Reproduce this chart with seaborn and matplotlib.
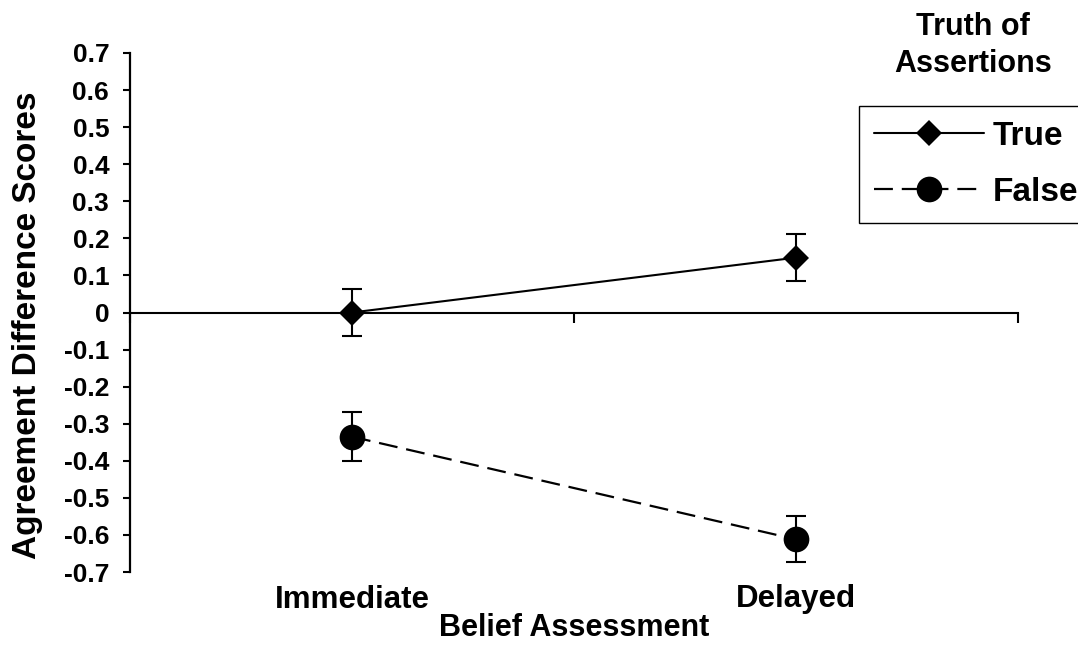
import pandas as pd
import seaborn as sns
import matplotlib.pyplot as plt

# Datos
assessment = ['Immediate', 'Delayed']
true_scores = [0.00, 0.148]
true_err = [0.064, 0.064]
false_scores = [-0.335, -0.612]
false_err = [0.066, 0.062]
y_ticks = [0.7, 0.6, 0.5, 0.4, 0.3, 0.2, 0.1, 0.0, -0.1, -0.2, -0.3, -0.4, -0.5, -0.6, -0.7]
y_tick_labels = ['0.7', '0.6', '0.5', '0.4', '0.3', '0.2', '0.1', '0',
                 '-0.1', '-0.2', '-0.3', '-0.4', '-0.5', '-0.6', '-0.7']

sns.set_style('white')
plt.rcParams['font.family'] = ['Liberation Sans', 'DejaVu Sans']
plt.rcParams['font.weight'] = 'bold'
for k in ['text.color', 'axes.labelcolor', 'xtick.color', 'ytick.color']:
    plt.rcParams[k] = 'black'

df_true = pd.DataFrame({'Assessment': assessment, 'Score': true_scores})
df_false = pd.DataFrame({'Assessment': assessment, 'Score': false_scores})

fig = plt.figure(figsize=(10.78, 6.45), dpi=100)
ax = fig.add_axes([130 / 1078, 1 - 572 / 645, 888 / 1078, 519 / 645])

sns.pointplot(data=df_true, x='Assessment', y='Score', order=assessment, color='black',
              marker='D', linestyle='-', linewidth=1.5, markersize=13.5,
              markeredgewidth=0, errorbar=None, ax=ax)
sns.pointplot(data=df_false, x='Assessment', y='Score', order=assessment, color='black',
              marker='o', linestyle=(0, (8.5, 4)), linewidth=1.6, markersize=18.5,
              markeredgewidth=0, errorbar=None, ax=ax)
line_true, line_false = ax.lines[0], ax.lines[1]

# barras de error
xpos = list(range(len(assessment)))
ax.errorbar(xpos, true_scores, yerr=true_err, fmt='none', ecolor='black',
            elinewidth=1.5, capsize=7.5, capthick=1.5, zorder=1)
ax.errorbar(xpos, false_scores, yerr=false_err, fmt='none', ecolor='black',
            elinewidth=1.5, capsize=7.5, capthick=1.5, zorder=1)

ax.set_xlim(-0.5, len(assessment) - 0.5)
ax.set_ylim(-0.7, 0.7)

# ejes
ax.spines[['top', 'right']].set_visible(False)
ax.spines['bottom'].set_position(('data', 0))
ax.spines['bottom'].set_linewidth(1.5)
ax.spines['left'].set_linewidth(1.6)
for s in ['bottom', 'left']:
    ax.spines[s].set_color('black')
ax.set_xticks([-0.5, 0.5, 1.5], labels=['', '', ''])
ax.tick_params(axis='x', direction='out', length=7.5, width=1.5, color='black', bottom=True)
ax.set_yticks(y_ticks, labels=y_tick_labels)
ax.tick_params(axis='y', direction='out', length=5, width=1.5, color='black',
               pad=10, labelsize=19, left=True)
ax.set_xlabel('')
ax.set_ylabel('Agreement Difference Scores', fontsize=24, fontweight='bold')
ax.yaxis.set_label_coords(-0.098, 0.476)

# etiquetas de categoria abajo
secax = ax.secondary_xaxis(0.0)
secax.set_xticks(xpos, labels=assessment)
secax.tick_params(length=0, pad=9, labelsize=22.5)
secax.spines['bottom'].set_visible(False)
secax.set_xlabel('Belief Assessment', fontsize=22, fontweight='bold', labelpad=-1)

# leyenda
fig.text(973 / 1078, 1 - 35 / 645, 'Truth of', ha='center', va='baseline', fontsize=22)
fig.text(973 / 1078, 1 - 72 / 645, 'Assertions', ha='center', va='baseline', fontsize=22)
leg = fig.legend([line_true, line_false], ['True', 'False'], loc='upper left',
                 bbox_to_anchor=(859 / 1078, 1 - 106 / 645), borderaxespad=0,
                 prop={'size': 24, 'weight': 'bold'}, handlelength=3.3,
                 handletextpad=0.25, borderpad=0.45, labelspacing=0.75,
                 fancybox=False, edgecolor='black', framealpha=1)
leg.get_frame().set_linewidth(1.0)

fig.savefig('out.png', dpi=100)
